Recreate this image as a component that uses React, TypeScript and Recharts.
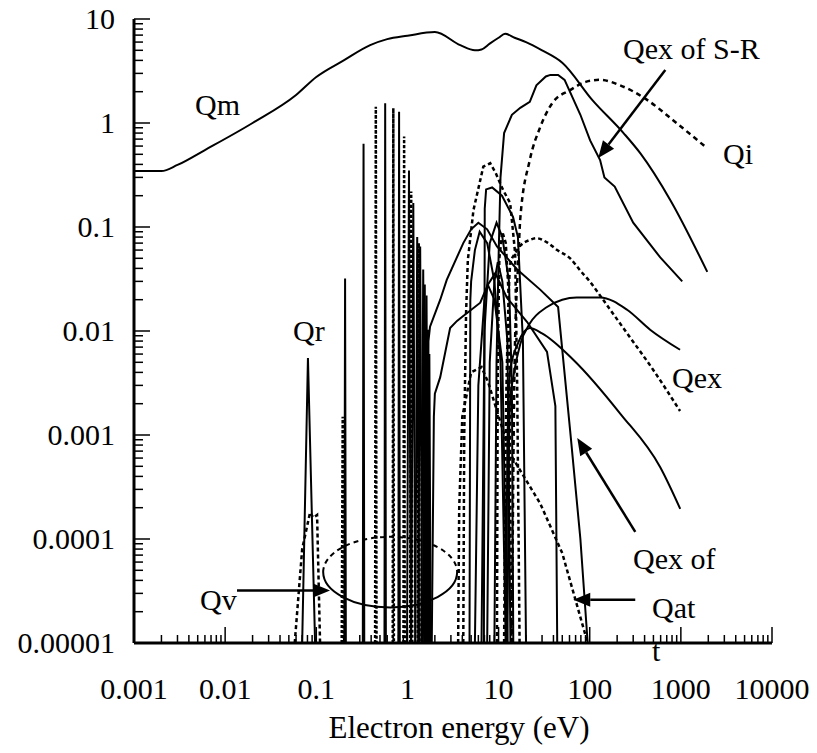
import React from "react";
import {
  LineChart,
  Line,
  XAxis,
  YAxis,
  ReferenceLine,
  ReferenceArea,
} from "recharts";

// axis ticks
const xMajorTicks = [0.001, 0.01, 0.1, 1, 10, 100, 1000, 10000];
const xMajorLabels = ["0.001", "0.01", "0.1", "1", "10", "100", "1000", "10000"];
const yMajorTicks = [0.00001, 0.0001, 0.001, 0.01, 0.1, 1, 10];
const yMajorLabels = ["0.00001", "0.0001", "0.001", "0.01", "0.1", "1", "10"];
const minorSteps = [2, 3, 4, 5, 6, 7, 8, 9];

// cross sections, [energy eV, Q]
const qm = [
  [0.001, 0.345], [0.002, 0.345], [0.003, 0.395], [0.006, 0.55], [0.02, 1.0],
  [0.06, 1.86], [0.1, 2.77], [0.2, 4.0], [0.39, 5.6], [0.6, 6.4], [1.0, 6.9],
  [2.0, 7.5], [3.8, 5.6], [5.5, 5.0], [6.5, 5.1], [8, 5.8], [10, 6.6],
  [11.8, 7.2], [15, 6.6], [20, 6.0], [30, 5.0], [50, 3.8], [107, 1.66],
  [235, 0.8], [360, 0.51], [770, 0.18], [1950, 0.037],
];
const qi = [
  [14, 1e-5], [15, 0.005], [16.5, 0.05], [17.3, 0.12], [22, 0.44], [28.6, 0.91],
  [39, 1.56], [61, 2.07], [92, 2.5], [130, 2.6], [216, 2.3], [430, 1.66],
  [815, 1.07], [1950, 0.57],
];
const qexSR = [
  [9.0, 1e-5], [9.5, 0.005], [10, 0.05], [10.5, 0.3], [11.5, 0.8], [14, 1.2],
  [17.3, 1.4], [22, 1.6], [26, 2.3], [33, 2.8], [37, 2.9], [45, 2.9], [53, 2.6],
  [79, 1.2], [101, 0.68], [130, 0.44], [145, 0.3], [188, 0.245], [300, 0.11],
  [594, 0.051], [1035, 0.03],
];
const qexDash = [
  [11.5, 1e-5], [12, 0.001], [12.6, 0.01], [13.5, 0.045], [15.2, 0.056],
  [17.3, 0.066], [22, 0.075], [26, 0.078], [35, 0.07], [44, 0.06], [61, 0.05],
  [79, 0.038], [100, 0.03], [140, 0.02], [257, 0.0095], [500, 0.0042], [980, 0.0017],
];
const qexArc = [
  [12.5, 1e-5], [13, 0.0008], [13.4, 0.0021], [14.5, 0.0036], [17.3, 0.0075],
  [22, 0.0118], [34, 0.017], [50, 0.02], [72, 0.021], [130, 0.021], [257, 0.016],
  [460, 0.0103], [980, 0.0066],
];
const qexLow = [
  [12, 1e-5], [12.5, 0.0008], [13.4, 0.0042], [16.4, 0.0077], [22, 0.0107],
  [30, 0.0095], [66, 0.0053], [217, 0.0016], [594, 0.00049], [984, 0.000195],
];
const qexOf = [
  [1.6, 1e-5], [1.7, 0.008], [1.77, 0.011], [2.29, 0.02], [2.7, 0.031], [4.1, 0.07],
  [5, 0.095], [6, 0.11], [7.5, 0.095], [9.6, 0.065], [16, 0.039], [28.6, 0.025],
  [45, 0.017], [61, 0.0011], [79, 0.0001], [95, 1e-5],
];
const qexKink = [
  [1.85, 1e-5], [1.95, 0.0015], [2.0, 0.0025], [2.29, 0.0036], [2.94, 0.0107],
  [3.5, 0.0125], [4.0, 0.0137], [6.3, 0.0187], [7.6, 0.0277], [9.2, 0.036],
  [12.3, 0.021], [20.6, 0.0122], [34, 0.0063], [42, 0.0019], [44, 1e-5],
];
const qexTall = [
  [6.9, 1e-5], [7.05, 0.15], [7.3, 0.23], [8.5, 0.24], [10.9, 0.2], [14.4, 0.125],
  [16.3, 0.08], [18.5, 0.008], [20, 1e-5],
];
const qexA = [
  [6.5, 1e-5], [7.0, 0.01], [8, 0.07], [9.5, 0.11], [11, 0.08], [13, 0.03],
  [14, 0.003], [14.5, 1e-5],
];
const qexB = [
  [7.5, 1e-5], [8, 0.005], [9, 0.03], [9.8, 0.046], [11, 0.03], [12.5, 0.008],
  [13.5, 1e-5],
];
const qexC = [
  [5.5, 1e-5], [6, 0.003], [7, 0.02], [7.6, 0.028], [9, 0.02], [11, 0.005],
  [12.5, 1e-5],
];
const qexD = [
  [4.8, 1e-5], [4.9, 0.02], [5.0, 0.03], [5.5, 0.06], [6.2, 0.09], [7.5, 0.07],
  [9, 0.03], [10.5, 0.005], [12, 1e-5],
];
const qexPeakDash = [
  [4.1, 1e-5], [4.2, 0.001], [4.4, 0.015], [4.6, 0.048], [5.3, 0.145], [6.8, 0.38],
  [8.1, 0.41], [9.3, 0.33], [11.2, 0.227], [13.4, 0.17], [15.2, 0.056], [16, 0.003],
  [17, 1e-5],
];
const qexSmallDash = [
  [9.6, 1e-5], [9.8, 0.005], [10.2, 0.05], [11, 0.09], [12, 0.07], [13, 0.02],
  [13.8, 1e-5],
];
const qat = [
  [3.6, 1e-5], [3.7, 0.0002], [4.0, 0.0015], [5, 0.004], [6.5, 0.0045], [7.7, 0.0032],
  [13.4, 0.00066], [28.6, 0.00022], [50, 0.000073], [95, 1e-5],
];
const qr = [[0.07, 1e-5], [0.081, 0.0055], [0.097, 1e-5]];
const qv = [
  [0.058, 1e-5], [0.07, 0.00008], [0.0855, 0.00018], [0.093, 0.00016],
  [0.102, 0.00017], [0.11, 1e-5],
];
// vibrational spikes
const spikesSolid = [
  [[0.203, 1e-5], [0.207, 0.032], [0.211, 1e-5]],
  [[0.324, 1e-5], [0.33, 0.63], [0.336, 1e-5]],
  [[0.56, 1e-5], [0.57, 1.55], [0.58, 1e-5]],
  [[0.795, 1e-5], [0.81, 1.28], [0.825, 1e-5]],
  [[0.99, 1e-5], [1.04, 0.35], [1.09, 1e-5]],
  [[1.1, 1e-5], [1.16, 0.17], [1.22, 1e-5]],
  [[1.22, 1e-5], [1.28, 0.08], [1.34, 1e-5]],
  [[1.31, 1e-5], [1.38, 0.065], [1.45, 1e-5]],
  [[1.42, 1e-5], [1.49, 0.039], [1.56, 1e-5]],
  [[1.48, 1e-5], [1.55, 0.028], [1.62, 1e-5]],
  [[1.55, 1e-5], [1.62, 0.022], [1.69, 1e-5]],
  [[1.61, 1e-5], [1.68, 0.0103], [1.75, 1e-5]],
  [[1.68, 1e-5], [1.74, 0.006], [1.8, 1e-5]],
];
const spikesDash = [
  [[0.19, 1e-5], [0.195, 0.0015], [0.2, 1e-5]],
  [[0.442, 1e-5], [0.45, 1.43], [0.458, 1e-5]],
  [[0.69, 1e-5], [0.7, 1.39], [0.71, 1e-5]],
  [[0.905, 1e-5], [0.92, 0.74], [0.935, 1e-5]],
  [[1.07, 1e-5], [1.1, 0.22], [1.13, 1e-5]],
  [[1.3, 1e-5], [1.33, 0.07], [1.36, 1e-5]],
];

const pts = (arr: number[][]) => arr.map(([e, q]) => ({ e, q }));

const xMinor = xMajorTicks.slice(0, -1).flatMap((d) => minorSteps.map((m) => d * m));
const yMinor = yMajorTicks.slice(0, -1).flatMap((d) => minorSteps.map((m) => d * m));

const FONT = '"Liberation Serif", "DejaVu Serif", serif';

const XTick = (props: any) => {
  const { x, y, payload } = props;
  const i = xMajorTicks.indexOf(payload.value);
  return (
    <g>
      <line x1={x} x2={x} y1={y} y2={y - (i >= 0 ? 16 : 8)} stroke="#000" strokeWidth={1.5} />
      {i >= 0 && (
        <text x={x} y={y + 56} textAnchor="middle" style={{ fontFamily: FONT, fontSize: 30 }} fill="#000">
          {xMajorLabels[i]}
        </text>
      )}
    </g>
  );
};

const YTick = (props: any) => {
  const { x, y, payload } = props;
  const i = yMajorTicks.indexOf(payload.value);
  return (
    <g>
      <line x1={x} x2={x + (i >= 0 ? 16 : 9)} y1={y} y2={y} stroke="#000" strokeWidth={1.5} />
      {i >= 0 && (
        <text x={x - 19} y={y + 10} textAnchor="end" style={{ fontFamily: FONT, fontSize: 30 }} fill="#000">
          {yMajorLabels[i]}
        </text>
      )}
    </g>
  );
};

const Arrow = (props: any) => {
  const { x1, y1, x2, y2 } = props;
  const a = Math.atan2(y2 - y1, x2 - x1);
  const L = 17;
  const W = 7;
  const bx = x2 - L * Math.cos(a);
  const by = y2 - L * Math.sin(a);
  const px = -Math.sin(a) * W;
  const py = Math.cos(a) * W;
  return (
    <g>
      <line x1={x1} y1={y1} x2={bx} y2={by} stroke="#000" strokeWidth={2.5} />
      <polygon points={`${x2},${y2} ${bx + px},${by + py} ${bx - px},${by - py}`} fill="#000" />
    </g>
  );
};

const Ellipse = (props: any) => {
  const { x, y, width, height } = props;
  const rx = width / 2;
  const ry = height / 2;
  const cy = y + ry;
  return (
    <g fill="none" stroke="#000" strokeWidth={2}>
      <path d={`M ${x} ${cy} A ${rx} ${ry} 0 0 1 ${x + width} ${cy}`} strokeDasharray="5 4" />
      <path d={`M ${x} ${cy} A ${rx} ${ry} 0 0 0 ${x + width} ${cy}`} />
    </g>
  );
};

const solid = (key: string, d: number[][], type: any = "linear") => (
  <Line
    key={key}
    data={pts(d)}
    dataKey="q"
    type={type}
    stroke="#000"
    strokeWidth={2}
    dot={false}
    activeDot={false}
    isAnimationActive={false}
  />
);

const dashed = (key: string, d: number[][], type: any = "linear", dash = "4 3") => (
  <Line
    key={key}
    data={pts(d)}
    dataKey="q"
    type={type}
    stroke="#000"
    strokeWidth={2.5}
    strokeDasharray={dash}
    dot={false}
    activeDot={false}
    isAnimationActive={false}
  />
);

const labels = [
  { t: "Qm", x: 195, y: 115 },
  { t: "Qr", x: 293, y: 341 },
  { t: "Qv", x: 200, y: 610 },
  { t: "Qi", x: 723, y: 164 },
  { t: "Qex of S-R", x: 623, y: 59 },
  { t: "Qex", x: 672, y: 388 },
  { t: "Qex of", x: 633, y: 569 },
  { t: "Qat", x: 652, y: 618 },
  { t: "t", x: 652, y: 661 },
];

export default function App() {
  return (
    <div style={{ position: "absolute", left: 0, top: 0, width: 817, height: 753, background: "#fff", fontFamily: FONT }}>
      <LineChart width={817} height={753} margin={{ top: 19, right: 45, bottom: 0, left: 0 }}>
        <XAxis
          dataKey="e"
          type="number"
          scale="log"
          domain={[0.001, 10000]}
          allowDataOverflow
          ticks={[...xMajorTicks, ...xMinor]}
          interval={0}
          tick={<XTick />}
          tickLine={false}
          tickSize={0}
          tickMargin={0}
          height={110}
          axisLine={{ stroke: "#000", strokeWidth: 3 }}
        />
        <XAxis
          xAxisId="top"
          orientation="top"
          type="number"
          scale="log"
          domain={[0.001, 10000]}
          tick={false}
          tickLine={false}
          height={0}
          axisLine={{ stroke: "#000", strokeWidth: 2 }}
        />
        <YAxis
          type="number"
          scale="log"
          domain={[0.00001, 10]}
          allowDataOverflow
          ticks={[...yMajorTicks, ...yMinor]}
          interval={0}
          tick={<YTick />}
          tickLine={false}
          tickSize={0}
          tickMargin={0}
          width={134}
          axisLine={{ stroke: "#000", strokeWidth: 3 }}
        />
        <YAxis
          yAxisId="right"
          orientation="right"
          type="number"
          scale="log"
          domain={[0.00001, 10]}
          tick={false}
          tickLine={false}
          width={0}
          axisLine={{ stroke: "#000", strokeWidth: 2 }}
        />

        {solid("qm", qm, "monotone")}
        {dashed("qi", qi, "monotone", "5 4")}
        {solid("qexSR", qexSR)}
        {dashed("qexDash", qexDash, "monotone")}
        {solid("qexArc", qexArc, "monotone")}
        {solid("qexLow", qexLow, "monotone")}
        {solid("qexOf", qexOf)}
        {solid("qexKink", qexKink)}
        {solid("qexTall", qexTall)}
        {solid("qexA", qexA)}
        {solid("qexB", qexB)}
        {solid("qexC", qexC)}
        {solid("qexD", qexD)}
        {dashed("qexPeakDash", qexPeakDash)}
        {dashed("qexSmallDash", qexSmallDash)}
        {dashed("qat", qat)}
        {solid("qr", qr)}
        {dashed("qv", qv)}
        {spikesSolid.map((s, i) => solid("ss" + i, s))}
        {spikesDash.map((s, i) => dashed("sd" + i, s, "linear", "3 2"))}

        <ReferenceArea x1={0.119} x2={3.51} y1={0.000022} y2={0.000105} shape={<Ellipse />} ifOverflow="visible" />
        <ReferenceLine segment={[{ x: 0.0135, y: 0.000032 }, { x: 0.1416, y: 0.000032 }]} shape={Arrow} ifOverflow="visible" />
        <ReferenceLine segment={[{ x: 675, y: 3.24 }, { x: 124, y: 0.46 }]} shape={Arrow} ifOverflow="visible" />
        <ReferenceLine segment={[{ x: 316, y: 0.000117 }, { x: 73, y: 0.000935 }]} shape={Arrow} ifOverflow="visible" />
        <ReferenceLine segment={[{ x: 316, y: 0.000026 }, { x: 66, y: 0.000026 }]} shape={Arrow} ifOverflow="visible" />
      </LineChart>
      <svg width={817} height={753} style={{ position: "absolute", left: 0, top: 0, pointerEvents: "none" }}>
        {labels.map((l) => (
          <text key={l.t} x={l.x} y={l.y} style={{ fontFamily: FONT, fontSize: 30 }} fill="#000">
            {l.t}
          </text>
        ))}
        <text x={459} y={738} textAnchor="middle" style={{ fontFamily: FONT, fontSize: 31 }} fill="#000">
          Electron energy (eV)
        </text>
      </svg>
    </div>
  );
}
